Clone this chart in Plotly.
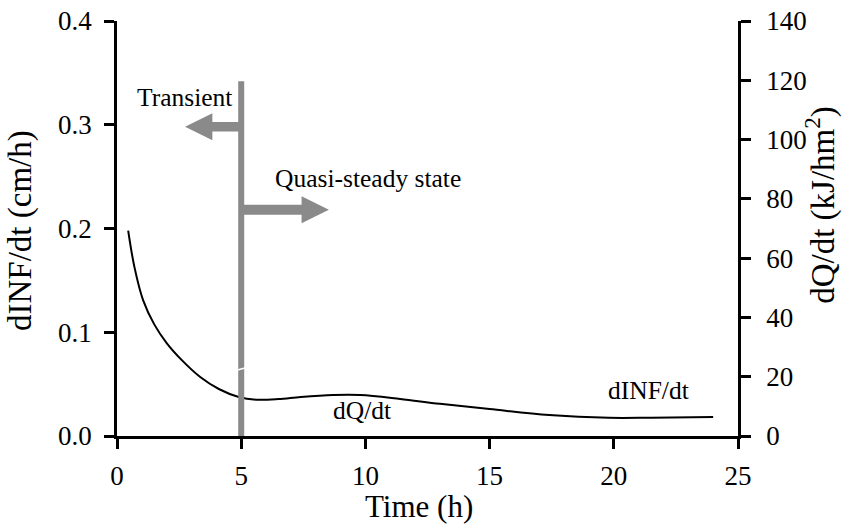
import plotly.graph_objects as go

# Data
time_h = [0.45, 0.7, 1.05, 1.5, 2.0, 2.6, 3.35, 4.1, 4.9, 5.6, 6.5, 7.4, 8.7, 9.8, 11.4, 13.0, 15.0, 17.4, 19.8, 21.5, 24.0]
dinf_dt = [0.198, 0.163, 0.131, 0.1076, 0.0896, 0.0734, 0.0569, 0.0453, 0.0376, 0.0350, 0.0356, 0.0376, 0.0395, 0.0395, 0.0357, 0.0310, 0.0260, 0.0202, 0.0175, 0.0176, 0.0183]

x_ticks = [0, 5, 10, 15, 20, 25]
y_ticks = [0.0, 0.1, 0.2, 0.3, 0.4]
y2_ticks = [0, 20, 40, 60, 80, 100, 120, 140]

x_title = "Time (h)"
y_title = "dINF/dt (cm/h)"
y2_title = "dQ/dt (kJ/hm<sup>2</sup>)"

# Annotation geometry (data coordinates)
boundary_t = 5
boundary_top = 0.342
gap_y = 0.0636
left_arrow_y, left_arrow_tip = 0.298, 2.74
right_arrow_y, right_arrow_tip = 0.218, 8.53

FONT = "Liberation Serif, Times New Roman, serif"
GRAY = "#8a8a8a"

fig = go.Figure()
fig.add_trace(go.Scatter(x=time_h, y=dinf_dt, mode="lines",
                         line=dict(color="black", width=2, shape="spline", smoothing=1.0),
                         showlegend=False, hoverinfo="skip"))
fig.add_trace(go.Scatter(x=[None], y=[None], yaxis="y2", mode="lines", showlegend=False, hoverinfo="skip"))

shapes = []
# vertical boundary line
shapes.append(dict(type="line", x0=boundary_t, x1=boundary_t, y0=0, y1=boundary_top,
                   line=dict(color=GRAY, width=6), layer="above"))
# small white break in the boundary line
shapes.append(dict(type="line", x0=boundary_t - 0.15, x1=boundary_t + 0.15, y0=gap_y, y1=gap_y + 0.002,
                   line=dict(color="white", width=1.5), layer="above"))
# left arrow shaft + head
head_len = 1.1
head_half = 0.013
shapes.append(dict(type="line", x0=boundary_t, x1=left_arrow_tip + head_len * 0.9, y0=left_arrow_y, y1=left_arrow_y,
                   line=dict(color=GRAY, width=9.5)))
shapes.append(dict(type="path",
                   path=f"M {left_arrow_tip} {left_arrow_y} L {left_arrow_tip + head_len} {left_arrow_y + head_half} "
                        f"L {left_arrow_tip + head_len} {left_arrow_y - head_half} Z",
                   fillcolor=GRAY, line=dict(width=0)))
# right arrow shaft + head
shapes.append(dict(type="line", x0=boundary_t, x1=right_arrow_tip - head_len * 0.9, y0=right_arrow_y, y1=right_arrow_y,
                   line=dict(color=GRAY, width=10)))
shapes.append(dict(type="path",
                   path=f"M {right_arrow_tip} {right_arrow_y} L {right_arrow_tip - head_len} {right_arrow_y + head_half} "
                        f"L {right_arrow_tip - head_len} {right_arrow_y - head_half} Z",
                   fillcolor=GRAY, line=dict(width=0)))

ann_font = dict(size=25.5, color="black", family=FONT)
annotations = [
    dict(x=2.70, y=0.326, text="Transient", showarrow=False, font=ann_font),
    dict(x=10.1, y=0.248, text="Quasi-steady state", showarrow=False, font=ann_font),
    dict(x=9.86, y=0.025, text="dQ/dt", showarrow=False, font=ann_font),
    dict(x=21.4, y=0.0443, text="dINF/dt", showarrow=False, font=ann_font),
    # axis titles
    dict(x=0.4863, y=-0.171, xref="paper", yref="paper", text=x_title, showarrow=False,
         xanchor="center", yanchor="middle", font=dict(size=31, color="black", family=FONT)),
    dict(x=-0.1546, y=0.4964, xref="paper", yref="paper", text=y_title, textangle=-90, showarrow=False,
         xanchor="center", yanchor="middle", font=dict(size=33, color="black", family=FONT)),
    dict(x=1.1337, y=0.557, xref="paper", yref="paper", text=y2_title, textangle=-90, showarrow=False,
         xanchor="center", yanchor="middle", font=dict(size=33, color="black", family=FONT)),
]

axis_common = dict(showgrid=False, zeroline=False, showline=True, linecolor="black", linewidth=2.5,
                   ticks="outside", ticklen=10, tickwidth=2.5, tickcolor="black", automargin=False,
                   tickfont=dict(size=27, color="black", family=FONT))

fig.update_layout(
    width=848, height=525,
    margin=dict(l=117, r=110, t=21, b=89),
    paper_bgcolor="white", plot_bgcolor="white",
    font=dict(family=FONT, color="black"),
    xaxis=dict(range=[0, 25], tickvals=x_ticks, ticktext=[str(v) for v in x_ticks], ticklabelstandoff=4,
               **axis_common),
    yaxis=dict(range=[0, 0.4], tickvals=y_ticks, ticktext=[f"{v:.1f}" for v in y_ticks], ticklabelstandoff=7,
               **axis_common),
    yaxis2=dict(range=[0, 140], tickvals=y2_ticks, ticktext=[str(v) for v in y2_ticks], overlaying="y", side="right",
                ticklabelstandoff=10, **axis_common),
    shapes=shapes,
    annotations=annotations,
)

fig.write_html("out.html")
